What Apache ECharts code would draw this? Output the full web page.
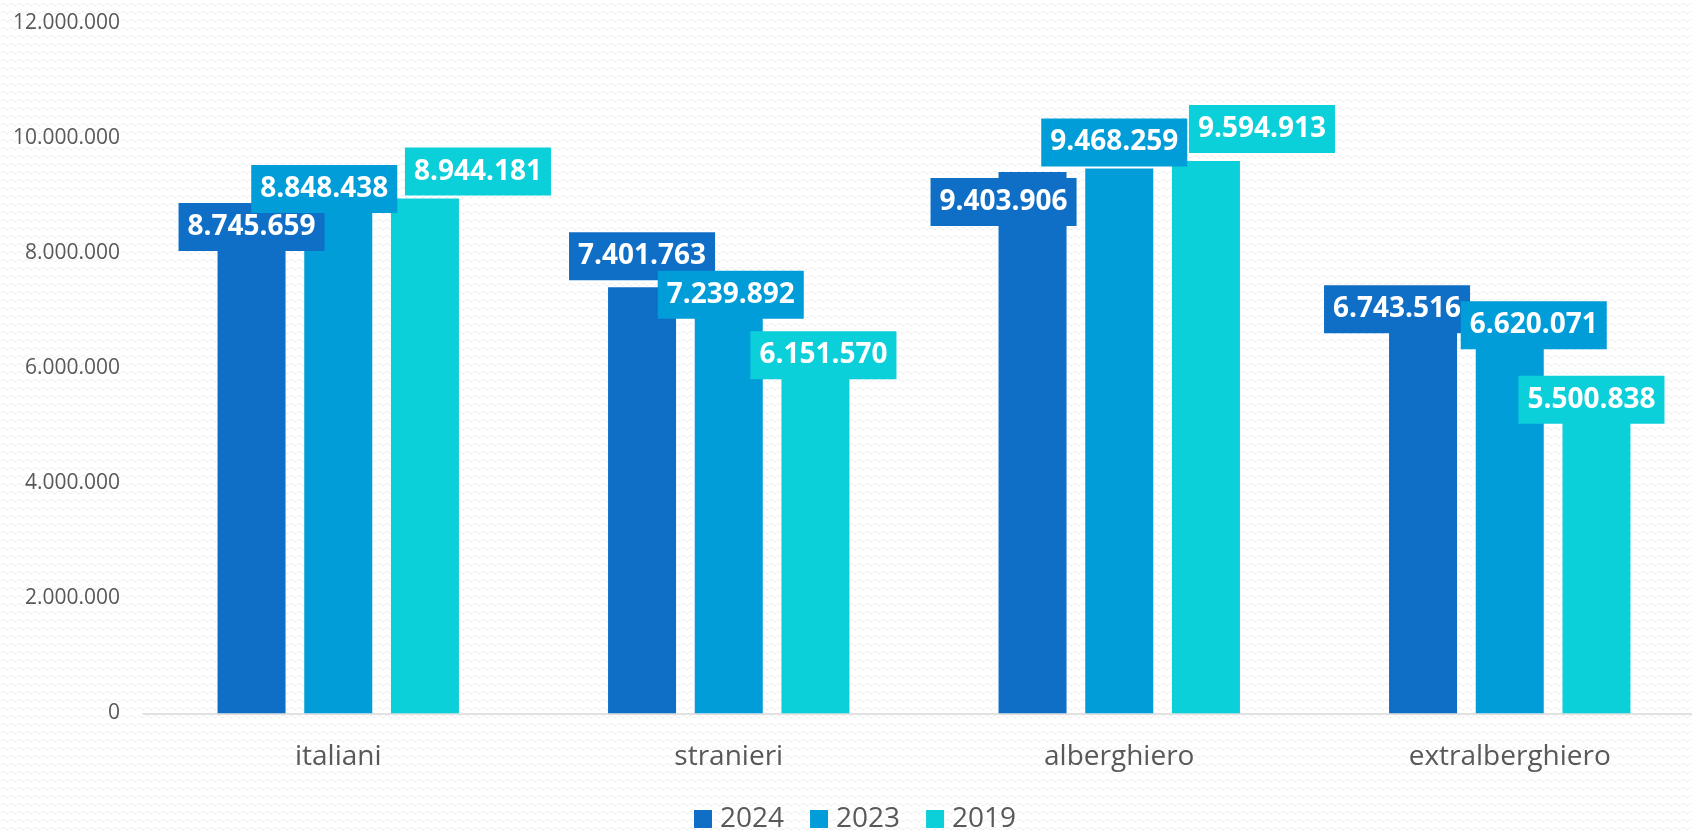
<!DOCTYPE html>
<html>
<head>
<meta charset="utf-8">
<script src="https://cdn.jsdelivr.net/npm/echarts@6/dist/echarts.min.js"></script>
<style>
  html, body { margin: 0; padding: 0; background: #ffffff; }
  #chart { width: 1692px; height: 831px; }
</style>
</head>
<body>
<div id="chart"></div>
<script>
// ---- Data ----
const categories = ['italiani', 'stranieri', 'alberghiero', 'extralberghiero'];
const seriesNames = ['2024', '2023', '2019'];
const values2024 = [8745659, 7401763, 9403906, 6743516];
const values2023 = [8848438, 7239892, 9468259, 6620071];
const values2019 = [8944181, 6151570, 9594913, 5500838];
const yTicks = { min: 0, max: 12000000, interval: 2000000 };

// ---- Styling / layout (not data) ----
const colors = ['#0F6FC6', '#009DD9', '#0BD0D9'];
const labelOffsets = [
  [[0, 41], [0, -7], [-29, 54], [-26, 8]],
  [[-14, 9], [2, 22], [-5, -2], [24, 17]],
  [[53, -3], [8, 20], [56, -8], [-5, 27]]
];

// background zigzag pattern
(function () {
  const c = document.createElement('canvas');
  c.width = 8; c.height = 8;
  const ctx = c.getContext('2d');
  ctx.fillStyle = '#ffffff';
  ctx.fillRect(0, 0, 8, 8);
  ctx.strokeStyle = '#ececec';
  ctx.lineWidth = 1;
  ctx.beginPath();
  ctx.moveTo(0, 5.5);
  ctx.lineTo(2, 3.5);
  ctx.lineTo(4, 3.5);
  ctx.lineTo(6, 5.5);
  ctx.lineTo(8, 5.5);
  ctx.stroke();
  document.getElementById('chart').style.backgroundImage = 'url(' + c.toDataURL() + ')';
})();

function fmt(v) {
  return String(v).replace(/\B(?=(\d{3})+(?!\d))/g, '.');
}

const allValues = [values2024, values2023, values2019];
const FONT = '"Open Sans", "Noto Sans", sans-serif';

const series = seriesNames.map((name, si) => ({
  name: name,
  type: 'bar',
  barWidth: 68,
  barGap: '27.5%',
  itemStyle: { color: colors[si] },
  data: allValues[si].map((v, ci) => ({
    value: v,
    label: { offset: labelOffsets[si][ci] }
  })),
  label: {
    show: true,
    position: 'top',
    distance: 0,
    formatter: p => fmt(p.value),
    color: '#ffffff',
    fontFamily: FONT,
    fontWeight: 'bold',
    fontSize: 28,
    lineHeight: 30,
    backgroundColor: colors[si],
    padding: [9, 9, 9, 9]
  },
  emphasis: { disabled: true }
}));

const chart = echarts.init(document.getElementById('chart'), null, { renderer: 'canvas' });
chart.setOption({
  animation: false,
  backgroundColor: 'transparent',
  color: colors,
  grid: {
    left: 143,
    right: -13,
    top: 22.7,
    bottom: 117.7,
    containLabel: false,
    outerBoundsMode: 'none'
  },
  legend: {
    data: seriesNames,
    left: 694,
    top: 805,
    padding: 0,
    icon: 'rect',
    itemWidth: 18,
    itemHeight: 18,
    itemGap: 26,
    textStyle: {
      color: '#595959',
      fontFamily: FONT,
      fontSize: 28,
      padding: [0, 0, 0, 3]
    }
  },
  xAxis: {
    type: 'category',
    data: categories,
    axisLine: { show: true, lineStyle: { color: '#d9d9d9', width: 1.5 } },
    axisTick: { show: false },
    axisLabel: {
      color: '#595959',
      fontFamily: FONT,
      fontSize: 28,
      margin: 30
    }
  },
  yAxis: {
    type: 'value',
    min: yTicks.min,
    max: yTicks.max,
    interval: yTicks.interval,
    axisLine: { show: false },
    axisTick: { show: false },
    splitLine: { show: false },
    axisLabel: {
      color: '#595959',
      fontFamily: FONT,
      fontSize: 21,
      margin: 23,
      formatter: v => fmt(v)
    }
  },
  series: series
});
</script>
</body>
</html>
